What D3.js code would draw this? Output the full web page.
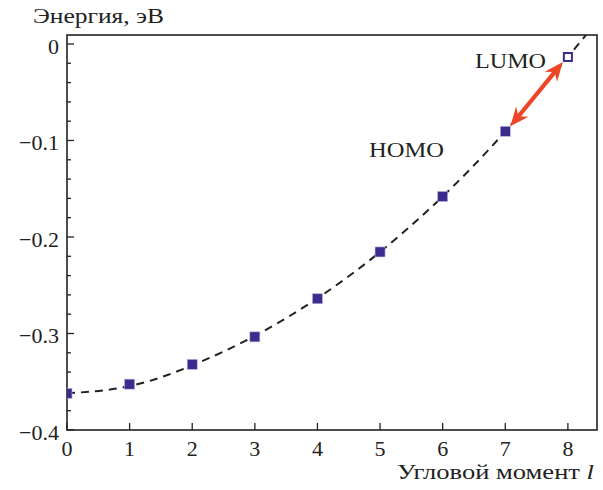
<!DOCTYPE html>
<html>
<head>
<meta charset="utf-8">
<script src="https://cdn.jsdelivr.net/npm/d3@7"></script>
<style>
  body { margin: 0; background: #fff; }
  text { font-family: "Liberation Serif", "DejaVu Serif", serif; fill: #222; }
</style>
</head>
<body>
<div id="chart"></div>
<script>
// HOMO levels (filled squares), l = 0..7
var homoL = [0, 1, 2, 3, 4, 5, 6, 7];
var homoE = [-0.362, -0.3525, -0.332, -0.3035, -0.264, -0.2155, -0.158, -0.0905];
// LUMO (open square)
var lumoL = [8];
var lumoE = [-0.0135];
// dashed fit curve
var fitL = [0, 1, 2, 3, 4, 5, 6, 7, 8, 8.4];
var fitE = [-0.362, -0.3545, -0.333, -0.3025, -0.2635, -0.2155, -0.158, -0.0905, -0.0135, 0.018];
var xTicks = [0, 1, 2, 3, 4, 5, 6, 7, 8];
var yTicks = [0, -0.1, -0.2, -0.3, -0.4];

var W = 603, H = 490;
var mLeft = 67, mRight = 597, mTop = 35, mBottom = 430;

var svg = d3.select("#chart").append("svg")
    .attr("width", W)
    .attr("height", H);

var x = d3.scaleLinear().domain([0, 8.465]).range([mLeft, mRight]);
var y = d3.scaleLinear().domain([-0.4, 0.0093]).range([mBottom, mTop]);

var defs = svg.append("defs");
defs.append("clipPath").attr("id", "clip")
  .append("rect")
  .attr("x", mLeft).attr("y", mTop)
  .attr("width", mRight - mLeft).attr("height", mBottom - mTop);

// frame
svg.append("rect")
  .attr("x", mLeft).attr("y", mTop)
  .attr("width", mRight - mLeft).attr("height", mBottom - mTop)
  .attr("fill", "none")
  .attr("stroke", "#222")
  .attr("stroke-width", 1.6);

// y ticks, inward
var yMinor = d3.range(0, 21).map(function(i){ return -i * 0.02; });
svg.append("g").selectAll("line").data(yMinor).enter()
  .append("line")
  .attr("x1", mLeft)
  .attr("x2", function(d, i){ return mLeft + (i % 5 === 0 ? 7 : 4); })
  .attr("y1", function(d){ return y(d); })
  .attr("y2", function(d){ return y(d); })
  .attr("stroke", "#222")
  .attr("stroke-width", 1.3);

svg.append("g").selectAll("text").data(yTicks).enter()
  .append("text")
  .attr("x", mLeft - 8)
  .attr("y", function(d){ return y(d) + 10; })
  .attr("text-anchor", "end")
  .style("font-size", "22px")
  .text(function(d){ return d === 0 ? "0" : "\u2212" + Math.abs(d).toFixed(1); });

// x ticks, inward
svg.append("g").selectAll("line").data(xTicks).enter()
  .append("line")
  .attr("x1", function(d){ return x(d); })
  .attr("x2", function(d){ return x(d); })
  .attr("y1", mBottom)
  .attr("y2", mBottom - 7)
  .attr("stroke", "#222")
  .attr("stroke-width", 1.3);

svg.append("g").selectAll("text").data(xTicks).enter()
  .append("text")
  .attr("x", function(d){ return x(d); })
  .attr("y", 456)
  .attr("text-anchor", "middle")
  .style("font-size", "22px")
  .text(function(d){ return d; });

// axis titles (stretched a bit to match the wider original face)
svg.append("text")
  .attr("x", 33)
  .attr("y", 23)
  .attr("textLength", 131)
  .attr("lengthAdjust", "spacingAndGlyphs")
  .style("font-size", "22px")
  .text("Энергия, эВ");

var xt = svg.append("text")
  .attr("x", 397)
  .attr("y", 479)
  .attr("textLength", 197)
  .attr("lengthAdjust", "spacingAndGlyphs")
  .style("font-size", "22px");
xt.append("tspan").text("Угловой момент ");
xt.append("tspan").style("font-style", "italic").text("l");

// dashed fit
var fit = fitL.map(function(d, i){ return [d, fitE[i]]; });
svg.append("path")
  .datum(fit)
  .attr("clip-path", "url(#clip)")
  .attr("fill", "none")
  .attr("stroke", "#222")
  .attr("stroke-width", 2)
  .attr("stroke-dasharray", "8,6")
  .attr("d", d3.line()
    .x(function(d){ return x(d[0]); })
    .y(function(d){ return y(d[1]); })
    .curve(d3.curveNatural));

// HOMO squares
var s = 10;
svg.append("g").selectAll("rect").data(homoL).enter()
  .append("rect")
  .attr("clip-path", "url(#clip)")
  .attr("x", function(d){ return x(d) - s / 2; })
  .attr("y", function(d, i){ return y(homoE[i]) - s / 2; })
  .attr("width", s)
  .attr("height", s)
  .attr("fill", "#3b2c8e")
  .attr("stroke", "#b9b3dc")
  .attr("stroke-width", 0.6);

// LUMO open square
svg.append("g").selectAll("rect").data(lumoL).enter()
  .append("rect")
  .attr("x", function(d){ return x(d) - 4; })
  .attr("y", function(d, i){ return y(lumoE[i]) - 4; })
  .attr("width", 8)
  .attr("height", 8)
  .attr("fill", "#fff")
  .attr("stroke", "#3b2c8e")
  .attr("stroke-width", 2);

// double arrow HOMO <-> LUMO
var arrowColor = "#ee4527";
var a0 = [x(7) + 5, y(homoE[7]) - 5];
var a1 = [x(8) - 5, y(lumoE[0]) + 5];
var dx = a1[0] - a0[0], dy = a1[1] - a0[1];
var len = Math.sqrt(dx * dx + dy * dy);
var u = [dx / len, dy / len], n = [-u[1], u[0]];
var headLen = 19, headW = 8, notch = 13;

function head(tip, dir) {
  var bx = tip[0] - dir[0] * headLen, by = tip[1] - dir[1] * headLen;
  var nx = tip[0] - dir[0] * notch, ny = tip[1] - dir[1] * notch;
  return "M" + tip[0] + "," + tip[1] +
    "L" + (bx + n[0] * headW) + "," + (by + n[1] * headW) +
    "L" + nx + "," + ny +
    "L" + (bx - n[0] * headW) + "," + (by - n[1] * headW) + "Z";
}

svg.append("line")
  .attr("x1", a0[0] + u[0] * notch).attr("y1", a0[1] + u[1] * notch)
  .attr("x2", a1[0] - u[0] * notch).attr("y2", a1[1] - u[1] * notch)
  .attr("stroke", arrowColor)
  .attr("stroke-width", 4.2);
svg.append("path").attr("d", head(a1, u)).attr("fill", arrowColor);
svg.append("path").attr("d", head(a0, [-u[0], -u[1]])).attr("fill", arrowColor);

// level labels
svg.append("text")
  .attr("x", 475)
  .attr("y", 68)
  .attr("textLength", 71)
  .attr("lengthAdjust", "spacingAndGlyphs")
  .style("font-size", "22px")
  .text("LUMO");
svg.append("text")
  .attr("x", 369)
  .attr("y", 157)
  .attr("textLength", 75)
  .attr("lengthAdjust", "spacingAndGlyphs")
  .style("font-size", "22px")
  .text("HOMO");
</script>
</body>
</html>
